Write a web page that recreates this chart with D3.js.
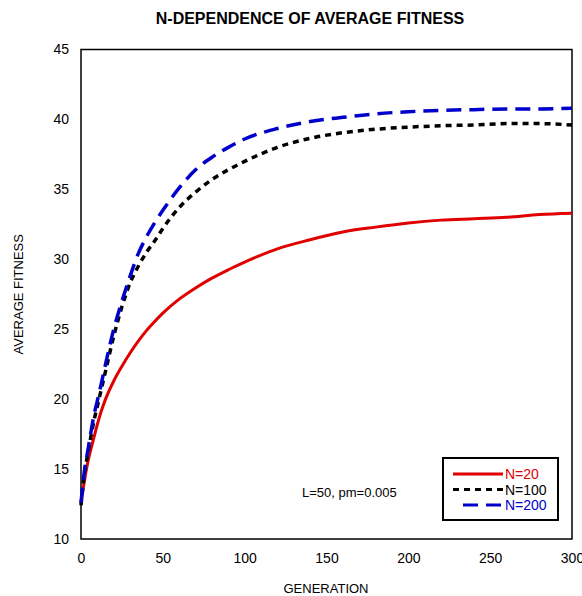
<!DOCTYPE html>
<html>
<head>
<meta charset="utf-8">
<script src="https://cdn.jsdelivr.net/npm/d3@7"></script>
<style>
  body { margin: 0; background: #fff; }
  text { font-family: "Liberation Sans", Arial, sans-serif; }
</style>
</head>
<body>
<svg width="582" height="596"></svg>
<script>
var generations = [0, 2, 4, 6, 8, 10, 12, 15, 20, 25, 30, 35, 40, 45, 50, 60, 70, 80, 90, 100,
                   120, 140, 160, 180, 200, 220, 240, 260, 280, 300];

var fitN20  = [12.5, 14.1, 15.4, 16.4, 17.3, 18.2, 19.0, 20.0, 21.3, 22.35, 23.3, 24.15, 24.9, 25.55, 26.15,
               27.15, 27.95, 28.65, 29.25, 29.8, 30.75, 31.4, 31.95, 32.3, 32.6, 32.8, 32.9, 33.0, 33.2, 33.3];
var fitN100 = [12.4, 14.6, 16.0, 17.3, 18.5, 19.5, 20.5, 22.0, 24.5, 26.6, 28.3, 29.5, 30.5, 31.3, 32.2,
               33.7, 34.8, 35.7, 36.4, 37.0, 38.0, 38.65, 39.05, 39.3, 39.45, 39.55, 39.6, 39.7, 39.7, 39.6];
var fitN200 = [12.6, 14.8, 16.2, 17.6, 18.9, 19.9, 20.9, 22.5, 25.0, 27.0, 28.8, 30.4, 31.6, 32.6, 33.5,
               35.1, 36.4, 37.3, 38.0, 38.6, 39.35, 39.85, 40.15, 40.4, 40.55, 40.65, 40.7, 40.75, 40.75, 40.8];

var xTicks = [0, 50, 100, 150, 200, 250, 300];
var yTicks = [10, 15, 20, 25, 30, 35, 40, 45];

var series = [
  {name: "N=20",  values: fitN20,  color: "#e00000", dash: null,  width: 3},
  {name: "N=100", values: fitN100, color: "#000000", dash: "6,5", width: 3.5},
  {name: "N=200", values: fitN200, color: "#0000cc", dash: "15,8", width: 3.5}
];

var svg = d3.select("svg"),
    margin = {top: 49.5, right: 10, bottom: 57, left: 81},
    width = +svg.attr("width") - margin.left - margin.right,
    height = +svg.attr("height") - margin.top - margin.bottom,
    g = svg.append("g").attr("transform", "translate(" + margin.left + "," + margin.top + ")");

var x = d3.scaleLinear().domain([0, 300]).range([0, width]);
var y = d3.scaleLinear().domain([10, 45]).range([height, 0]);

/* title */
svg.append("text")
    .attr("x", 310).attr("y", 24)
    .attr("text-anchor", "middle")
    .attr("font-size", 16).attr("font-weight", "bold")
    .text("N-DEPENDENCE OF AVERAGE FITNESS");

/* axes: labels only, no tick marks */
var xAxis = g.append("g")
    .attr("transform", "translate(0," + height + ")")
    .call(d3.axisBottom(x).tickValues(xTicks).tickSize(0).tickPadding(14));
var yAxis = g.append("g")
    .call(d3.axisLeft(y).tickValues(yTicks).tickSize(0).tickPadding(12));
[xAxis, yAxis].forEach(function(a) {
  a.select(".domain").remove();
  a.selectAll("text").attr("font-size", 14).attr("fill", "#000")
      .attr("font-family", "'Liberation Sans', Arial, sans-serif");
});

/* plot frame */
g.append("rect")
    .attr("width", width).attr("height", height)
    .attr("fill", "none").attr("stroke", "#000").attr("stroke-width", 1.5);

svg.append("text")
    .attr("x", 326).attr("y", 593)
    .attr("text-anchor", "middle").attr("font-size", 13)
    .text("GENERATION");

svg.append("text")
    .attr("transform", "translate(23," + (margin.top + height / 2) + ") rotate(-90)")
    .attr("text-anchor", "middle").attr("font-size", 13)
    .text("AVERAGE FITNESS");

/* lines */
var line = d3.line()
    .x(function(d, i) { return x(generations[i]); })
    .y(function(d) { return y(d); })
    .curve(d3.curveMonotoneX);

series.forEach(function(s) {
  g.append("path")
      .datum(s.values)
      .attr("fill", "none")
      .attr("stroke", s.color)
      .attr("stroke-width", s.width)
      .attr("stroke-dasharray", s.dash)
      .attr("d", line);
});

/* annotation */
svg.append("text")
    .attr("x", 302).attr("y", 497)
    .attr("font-size", 13)
    .text("L=50, pm=0.005");

/* legend */
var legend = svg.append("g").attr("transform", "translate(443,458)");
legend.append("rect")
    .attr("width", 115).attr("height", 62)
    .attr("fill", "#fff").attr("stroke", "#000").attr("stroke-width", 2);
series.forEach(function(s, i) {
  var ly = 16 + i * 15.5;
  legend.append("line")
      .attr("x1", i === 2 ? 20 : 10).attr("x2", 60)
      .attr("y1", ly).attr("y2", ly)
      .attr("stroke", s.color).attr("stroke-width", 3)
      .attr("stroke-dasharray", s.dash);
  legend.append("text")
      .attr("x", 62).attr("y", ly + 5)
      .attr("font-size", 14).attr("fill", s.color)
      .text(s.name);
});
</script>
</body>
</html>
